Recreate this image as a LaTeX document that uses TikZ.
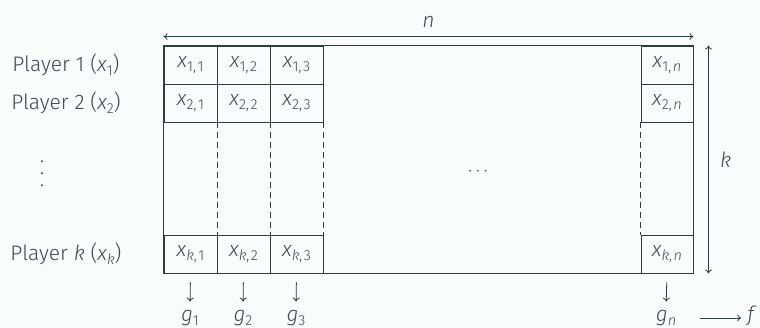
\documentclass[tikz,border=0pt]{standalone}
\usepackage{fontspec}
\setmainfont{Fira Sans Light}
\usetikzlibrary{arrows.meta}
\definecolor{txt}{HTML}{3E4A50}
\definecolor{ln}{HTML}{2E3B40}
\definecolor{bg}{HTML}{FAFBFB}
\newcommand\sbs[1]{\raisebox{-4pt}{\fontsize{14.5}{14.5}\selectfont #1}}
\newcommand\vx[1]{\textit{x}\sbs{#1}}
\newcommand\vg[1]{\textit{g}\sbs{#1}}
\newcommand\cm{,\kern1.5pt}
\newcommand\myvdots{\vbox{\baselineskip=12pt\lineskiplimit=-10pt\hbox{.}\hbox{.}\hbox{.}}}
\begin{document}
\begin{tikzpicture}[x=1pt,y=-1pt,
  every node/.style={text=txt,font=\fontsize{21}{24}\selectfont},
  cell/.style={draw=ln,line width=0.9pt,minimum width=53pt,minimum height=38pt,inner sep=0pt},
  lab/.style={inner sep=0pt,anchor=base},
  conn/.style={draw=ln,line width=0.8pt,-{To[length=4pt,width=7pt]}},
  dim/.style={draw=ln,line width=0.8pt,{To[length=4pt,width=7pt]}-{To[length=4pt,width=7pt]}},
  dsh/.style={draw=ln,line width=0.8pt,dash pattern=on 6pt off 4pt}]
\fill[bg] (0,0) rectangle (760,327);
\useasboundingbox (0,0) rectangle (760,327);
% cells
\node[cell] (c11) at (190.5,65) {\vx{1\cm1}};
\node[cell] (c12) at (243.5,65) {\vx{1\cm2}};
\node[cell] (c13) at (296.5,65) {\vx{1\cm3}};
\node[cell,minimum width=52pt] (c1n) at (667,65) {\vx{1\cm\textit{n}}};
\node[cell] (c21) at (190.5,103) {\vx{2\cm1}};
\node[cell] (c22) at (243.5,103) {\vx{2\cm2}};
\node[cell] (c23) at (296.5,103) {\vx{2\cm3}};
\node[cell,minimum width=52pt] (c2n) at (667,103) {\vx{2\cm\textit{n}}};
\node[cell] (ck1) at (190.5,254) {\vx{\textit{k}\cm1}};
\node[cell] (ck2) at (243.5,254) {\vx{\textit{k}\cm2}};
\node[cell] (ck3) at (296.5,254) {\vx{\textit{k}\cm3}};
\node[cell,minimum width=52pt] (ckn) at (667,254) {\vx{\textit{k}\cm\textit{n}}};
% frame
\draw[draw=ln,line width=0.9pt] (c11.north west) rectangle (ckn.south east);
% dashed
\draw[dsh] (c21.south east) -- (ck1.north east);
\draw[dsh] (c22.south east) -- (ck2.north east);
\draw[dsh] (c23.south east) -- (ck3.north east);
\draw[dsh] (c2n.south west) -- (ckn.north west);
\node (dots) at (478,172) {\fontsize{19}{19}\selectfont$\cdots$};
% row labels
\node (p1) at (66,65) {Player 1 (\vx{1})};
\node (p2) at (66,103) {Player 2 (\vx{2})};
\node (pv) at (42,174) {\myvdots};
\node (pk) at (66,254) {Player \textit{k} (\vx{\textit{k}})};
% dimensions
\draw[dim] ([yshift=9pt]c11.north west) -- ([yshift=9pt]c1n.north east) node[midway,above=5pt] (n) {\textit{n}};
\draw[dim] ([xshift=15pt]ckn.south east) -- ([xshift=15pt]c1n.north east) node[midway,right=8pt] (k) {\textit{k}};
% outputs
\node[lab] (g1) at (190,321) {\vg{1}};
\node[lab] (g2) at (243,321) {\vg{2}};
\node[lab] (g3) at (296,321) {\vg{3}};
\node[lab] (gn) at (666,321) {\vg{\textit{n}}};
\node[lab] (f) at (752,321) {\textit{f}};
\foreach \c/\g in {ck1/g1,ck2/g2,ck3/g3,ckn/gn}
  \draw[conn,shorten <=9pt,shorten >=8pt] (\c.south) -- (\g.north);
\coordinate (fs) at (700,318);
\draw[conn,shorten >=6pt] (fs) -- (f.west |- fs);
\end{tikzpicture}
\end{document}
